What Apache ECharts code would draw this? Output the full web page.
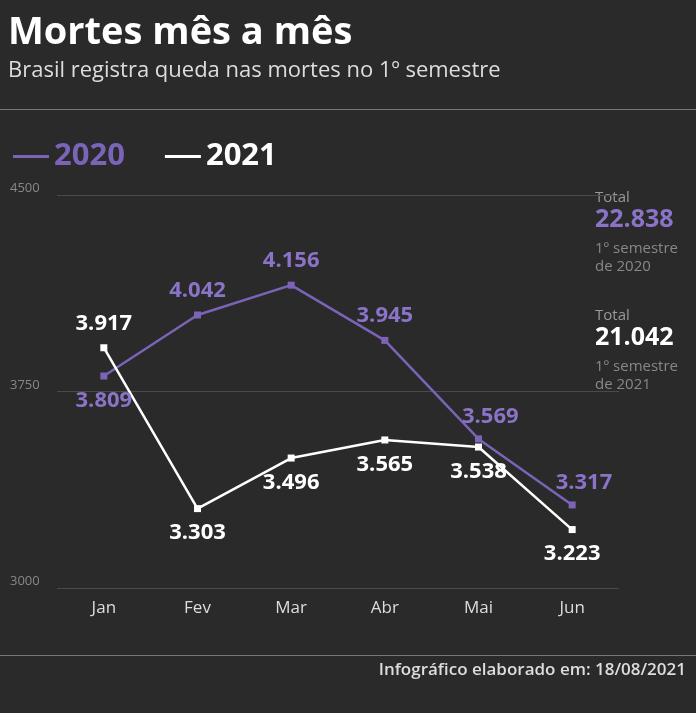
<!DOCTYPE html><html><head><meta charset="utf-8"><script src="https://cdn.jsdelivr.net/npm/echarts@6/dist/echarts.min.js"></script>
<style>body{margin:0;background:#2a2a2a}#c{width:696px;height:713px}</style></head><body><div id="c"></div><script>
const categories=['Jan','Fev','Mar','Abr','Mai','Jun'];
const s2020=[3809,4042,4156,3945,3569,3317];
const s2021=[3917,3303,3496,3565,3538,3223];
const yTicks=[3000,3750,4500];
const fmt=v=>String(v).replace(/(\d)(\d{3})$/,'$1.$2');
const ch=echarts.init(document.getElementById('c'));
const F='"Open Sans", sans-serif';
const lbl=(pos,col)=>({show:true,position:pos,distance:10,color:col,fontSize:22,fontWeight:'bold',fontFamily:F,formatter:p=>fmt(p.value)});
const d2020=s2020.map((v,i)=>({value:v,label:i===0?{position:'bottom'}:(i>=4?{position:'right',offset:[-30,-22]}:{})}));
const d2021=s2021.map((v,i)=>({value:v,label:i===0?{position:'top'}:{}}));
ch.setOption({backgroundColor:'#2a2a2a',animation:false,
grid:{left:57,right:77,top:195,bottom:125},
legend:{left:8,top:136,itemWidth:36,itemHeight:3,itemGap:40,icon:'rect',
 data:[{name:'2020',textStyle:{color:'#7b63b8'}},{name:'2021',textStyle:{color:'#fff'}}],
 textStyle:{fontSize:31,fontWeight:'bold',fontFamily:F}},
xAxis:{type:'category',data:categories,axisLine:{show:false},axisTick:{show:false},axisLabel:{color:'#ddd',fontSize:17,fontFamily:F,margin:12}},
yAxis:{type:'value',min:3000,max:4500,interval:750,axisLabel:{color:'#888',fontSize:13,fontFamily:F,verticalAlign:'bottom',align:'left',margin:47,formatter:v=>yTicks.includes(v)?v:''},
 splitLine:{lineStyle:{color:'#4a4a4a'}}},
series:[
{name:'2020',type:'line',data:d2020,color:'#7b63b8',lineStyle:{width:2.5},symbol:'rect',symbolSize:7,label:lbl('top','#8b73c8')},
{name:'2021',type:'line',data:d2021,color:'#fff',lineStyle:{width:2.5},symbol:'rect',symbolSize:7,label:lbl('bottom','#fff')}],
graphic:[
{type:'text',left:8,top:14,style:{text:'Mortes mês a mês',fill:'#fff',font:'bold 38px '+F}},
{type:'text',left:8,top:60,style:{text:'Brasil registra queda nas mortes no 1º semestre',fill:'#ddd',font:'22px '+F}},
{type:'rect',shape:{x:0,y:109,width:696,height:1},style:{fill:'#777'}},
{type:'rect',shape:{x:0,y:655,width:696,height:1},style:{fill:'#777'}},
{type:'text',right:10,top:662,style:{text:'Infográfico elaborado em: 18/08/2021',fill:'#ddd',font:'600 17px '+F}},
{type:'text',left:595,top:190,style:{text:'Total',fill:'#999',font:'15px '+F}},
{type:'text',left:595,top:207,style:{text:'22.838',fill:'#8b73c8',font:'bold 25px '+F}},
{type:'text',left:595,top:240,style:{text:'1º semestre\nde 2020',fill:'#888',font:'15px '+F,lineHeight:18}},
{type:'text',left:595,top:308,style:{text:'Total',fill:'#999',font:'15px '+F}},
{type:'text',left:595,top:325,style:{text:'21.042',fill:'#fff',font:'bold 25px '+F}},
{type:'text',left:595,top:358,style:{text:'1º semestre\nde 2021',fill:'#888',font:'15px '+F,lineHeight:18}}
]});
</script></body></html>
